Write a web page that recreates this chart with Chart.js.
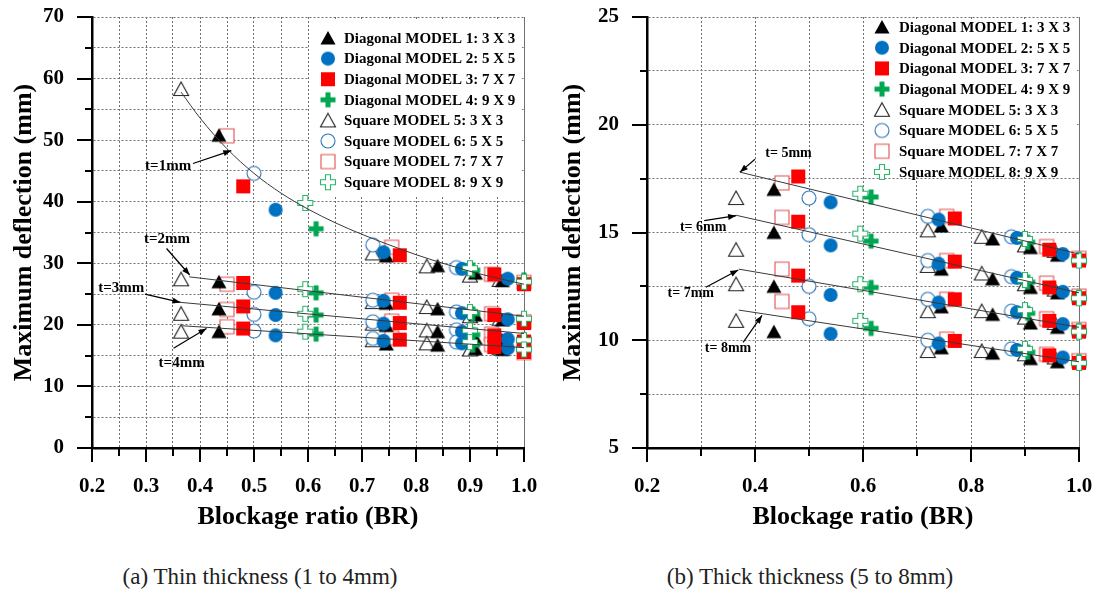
<!DOCTYPE html>
<html>
<head>
<meta charset="utf-8">
<title>Maximum deflection vs blockage ratio</title>
<script src="https://cdn.jsdelivr.net/npm/chart.js@4.4.1/dist/chart.umd.min.js"></script>
<style>
  html, body { margin: 0; padding: 0; background: #fff; }
  #wrap { position: relative; width: 1093px; height: 590px; overflow: hidden; }
  canvas { position: absolute; top: 0; }
  #thin { left: 0; }
  #thick { left: 546px; }
  .caption {
    position: absolute; top: 565px; line-height: 1;
    font-family: "Liberation Serif", "Times New Roman", serif;
    font-size: 23px; color: #222; white-space: nowrap;
    transform: translateX(-50%);
  }
</style>
</head>
<body>
<div id="wrap">
  <canvas id="thin" width="546" height="545"></canvas>
  <canvas id="thick" width="547" height="545"></canvas>
  <div class="caption" style="left:260px">(a) Thin thickness (1 to 4mm)</div>
  <div class="caption" style="left:810px">(b) Thick thickness (5 to 8mm)</div>
</div>
<script>
// blockage ratio (BR) of each model's configurations
const brM1 = [0.435, 0.745, 0.84, 0.91, 0.96];
const brM2 = [0.54, 0.74, 0.885, 0.97];
const brM3 = [0.48, 0.77, 0.945, 1.0];
const brM4 = [0.615, 0.905, 1.0];
const brM5 = [0.365, 0.72, 0.82, 0.9, 0.955];
const brM6 = [0.5, 0.72, 0.875];
const brM7 = [0.45, 0.755, 0.94, 1.0];
const brM8 = [0.595, 0.9, 1.0];

// maximum deflection (mm), one row per plate thickness t = 1..4 mm
const thinM1 = [[50.8, 31.2, 29.6, 28.4, 27.2], [27.0, 23.5, 22.6, 21.6, 20.8], [22.6, 19.9, 18.9, 17.8, 17.5], [18.9, 16.9, 16.7, 16.1, 16.0]];
const thinM2 = [[38.7, 31.8, 29.1, 27.5], [25.2, 23.9, 21.9, 20.9], [21.6, 20.2, 18.9, 17.7], [18.3, 17.4, 17.0, 16.2]];
const thinM3 = [[42.5, 31.3, 28.2, 26.6], [26.8, 23.6, 21.6, 20.3], [23.0, 20.3, 18.3, 17.3], [19.4, 17.6, 16.4, 15.6]];
const thinM4 = [[35.6, 28.9, 27.3], [25.2, 21.8, 20.8], [21.6, 18.4, 17.6], [18.5, 16.7, 16.1]];
const thinM5 = [[58.3, 31.6, 29.5, 28.0, 27.3], [27.4, 23.7, 22.9, 21.4, 21.0], [21.8, 20.2, 19.1, 17.8, 17.8], [18.9, 17.5, 17.0, 16.0, 16.2]];
const thinM6 = [[44.6, 33.0, 29.3], [25.3, 24.0, 22.1], [21.7, 20.5, 19.2], [19.0, 17.8, 17.2]];
const thinM7 = [[50.7, 32.6, 28.2, 26.9], [26.6, 24.0, 21.8, 20.5], [22.5, 20.6, 18.5, 17.0], [19.7, 17.9, 16.8, 15.5]];
const thinM8 = [[39.8, 29.2, 27.0], [25.8, 22.1, 21.0], [21.8, 19.1, 17.5], [18.9, 17.2, 16.0]];

// maximum deflection (mm), one row per plate thickness t = 5..8 mm
const thickM1 = [[17.0, 15.3, 14.7, 14.3, 13.95], [15.0, 13.3, 12.85, 12.45, 12.2], [12.5, 11.55, 11.2, 10.8, 10.6], [10.4, 9.65, 9.4, 9.15, 9.0]];
const thickM2 = [[16.4, 15.6, 14.75, 14.0], [14.4, 13.55, 12.9, 12.25], [12.1, 11.75, 11.3, 10.75], [10.3, 9.85, 9.55, 9.2]];
const thickM3 = [[17.6, 15.65, 14.2, 13.7], [15.5, 13.65, 12.45, 11.95], [13.0, 11.9, 10.9, 10.4], [11.3, 9.97, 9.3, 8.95]];
const thickM4 = [[16.65, 14.55, 13.75], [14.6, 12.7, 12.0], [12.45, 11.25, 10.45], [10.55, 9.45, 9.0]];
const thickM5 = [[16.6, 15.1, 14.8, 14.4, 14.15], [14.2, 13.45, 13.1, 12.6, 12.35], [12.6, 11.35, 11.35, 11.05, 10.8], [10.9, 9.5, 9.5, 9.35, 9.2]];
const thickM6 = [[16.6, 15.75, 14.8], [14.9, 13.7, 12.95], [12.5, 11.9, 11.35], [11.0, 10.0, 9.6]];
const thickM7 = [[17.3, 15.75, 14.35, 13.8], [15.7, 13.7, 12.65, 12.05], [13.3, 11.9, 11.0, 10.5], [11.8, 10.05, 9.35, 9.05]];
const thickM8 = [[16.8, 14.7, 13.7], [14.95, 12.8, 11.95], [12.6, 11.4, 10.4], [10.9, 9.6, 8.95]];

// trend lines for each thickness
const fitBrT1 = [0.365, 0.4, 0.45, 0.5, 0.55, 0.6, 0.65, 0.7, 0.75, 0.8, 0.85, 0.9, 0.95, 1.0];
const fitT1 = [57.8, 53.6, 48.6, 44.6, 41.4, 38.8, 36.6, 34.7, 33.0, 31.4, 30.0, 28.7, 27.6, 26.6];
const fitBrT2 = [0.38, 1.0];
const fitT2 = [27.8, 21.4];
const fitBrT3 = [0.364, 1.0];
const fitT3 = [23.65, 18.6];
const fitBrT4 = [0.367, 1.0];
const fitT4 = [19.85, 16.3];
const fitBrT5 = [0.372, 1.0];
const fitT5 = [17.8, 14.0];
const fitBrT6 = [0.365, 1.0];
const fitT6 = [15.8, 12.2];
const fitBrT7 = [0.37, 1.0];
const fitT7 = [13.3, 10.6];
const fitBrT8 = [0.37, 1.0];
const fitT8 = [11.4, 9.0];

const modelNames = [
  'Diagonal MODEL 1: 3 X 3', 'Diagonal MODEL 2: 5 X 5', 'Diagonal MODEL 3: 7 X 7', 'Diagonal MODEL 4: 9 X 9',
  'Square MODEL 5: 3 X 3', 'Square MODEL 6: 5 X 5', 'Square MODEL 7: 7 X 7', 'Square MODEL 8: 9 X 9'
];
const thinNotes = ['t=1mm', 't=2mm', 't=3mm', 't=4mm'];
const thickNotes = ['t= 5mm', 't= 6mm', 't= 7mm', 't= 8mm'];

const FONT = '"Liberation Serif", "Times New Roman", serif';
const BLUE = '#0070C0', RED = '#FF0000', GREEN = '#00A650';

// small canvases used as point styles (and legend symbols)
function marker(kind, fill, stroke) {
  const c = document.createElement('canvas');
  c.width = 18; c.height = 18;
  const g = c.getContext('2d');
  g.beginPath();
  if (kind === 'tri') {
    g.moveTo(9, 2); g.lineTo(16.5, 15.5); g.lineTo(1.5, 15.5); g.closePath();
  } else if (kind === 'circle') {
    g.arc(9, 9, 7, 0, Math.PI * 2);
  } else if (kind === 'square') {
    g.rect(2, 2, 14, 14);
  } else {
    const a = 6.5, b = 11.5, lo = 1.5, hi = 16.5;
    g.moveTo(a, lo); g.lineTo(b, lo); g.lineTo(b, a); g.lineTo(hi, a); g.lineTo(hi, b); g.lineTo(b, b);
    g.lineTo(b, hi); g.lineTo(a, hi); g.lineTo(a, b); g.lineTo(lo, b); g.lineTo(lo, a); g.lineTo(a, a);
    g.closePath();
  }
  g.fillStyle = fill;
  g.fill();
  if (stroke) {
    g.lineWidth = 1.1;
    g.strokeStyle = stroke;
    g.stroke();
  }
  return c;
}

// order: higher numbers are painted first (underneath)
const models = [
  { name: modelNames[0], br: brM1, thin: thinM1, thick: thickM1, img: marker('tri', '#000'), order: 5 },
  { name: modelNames[1], br: brM2, thin: thinM2, thick: thickM2, img: marker('circle', BLUE), order: 3 },
  { name: modelNames[2], br: brM3, thin: thinM3, thick: thickM3, img: marker('square', RED), order: 2 },
  { name: modelNames[3], br: brM4, thin: thinM4, thick: thickM4, img: marker('plus', GREEN), order: 4 },
  { name: modelNames[4], br: brM5, thin: thinM5, thick: thickM5, img: marker('tri', '#fff', '#222'), order: 8 },
  { name: modelNames[5], br: brM6, thin: thinM6, thick: thickM6, img: marker('circle', '#fff', '#2E75B6'), order: 7 },
  { name: modelNames[6], br: brM7, thin: thinM7, thick: thickM7, img: marker('square', '#fff', '#E05050'), order: 6 },
  { name: modelNames[7], br: brM8, thin: thinM8, thick: thickM8, img: marker('plus', '#fff', '#2DB36A'), order: 1 }
];

const panels = [
  {
    id: 'thin', key: 'thin', width: 546, height: 545, left: 92, right: 524, yTitlePad: 9,
    x: { step: 0.05, major: 0.1 },
    y: { min: 0, max: 70, step: 5, major: 10 },
    fits: [[fitBrT1, fitT1], [fitBrT2, fitT2], [fitBrT3, fitT3], [fitBrT4, fitT4]],
    notes: thinNotes, noteSize: 15,
    // label centre, arrow tail, arrow head (in BR / mm)
    notePos: [
      [[0.341, 45.8], [0.387, 46.2], [0.458, 48.3]],
      [[0.339, 34.0], [0.338, 32.4], [0.381, 28.1]],
      [[0.254, 25.9], [0.298, 25.0], [0.364, 23.65]],
      [[0.366, 13.75], [0.351, 16.2], [0.412, 19.4]]
    ],
    legend: { left: 309, top: 20, bottom: 195, marker: 328, text: 344, row0: 38, gap: 20.6 }
  },
  {
    id: 'thick', key: 'thick', width: 547, height: 545, left: 101, right: 533, yTitlePad: 12,
    x: { step: 0.1, major: 0.2 },
    y: { min: 5, max: 25, step: 2.5, major: 5 },
    fits: [[fitBrT5, fitT5], [fitBrT6, fitT6], [fitBrT7, fitT7], [fitBrT8, fitT8]],
    notes: thickNotes, noteSize: 14,
    notePos: [
      [[0.462, 18.67], [0.4, 18.4], [0.372, 17.8]],
      [[0.304, 15.22], [0.306, 15.55], [0.365, 15.78]],
      [[0.281, 12.18], [0.309, 12.46], [0.369, 13.26]],
      [[0.35, 9.63], [0.378, 9.9], [0.413, 11.15]]
    ],
    legend: { left: 318, top: 20, bottom: 177, marker: 336, text: 353, row0: 27, gap: 20.7 }
  }
];

const isMajor = (v, m) => Math.abs(v / m - Math.round(v / m)) < 1e-6;
const CLEAR = 'rgba(0,0,0,0)';

function arrow(ctx, x0, y0, x1, y1) {
  ctx.beginPath();
  ctx.moveTo(x0, y0);
  ctx.lineTo(x1, y1);
  ctx.stroke();
  const a = Math.atan2(y1 - y0, x1 - x0);
  const len = 8, half = 3;
  ctx.beginPath();
  ctx.moveTo(x1, y1);
  ctx.lineTo(x1 - len * Math.cos(a) + half * Math.sin(a), y1 - len * Math.sin(a) - half * Math.cos(a));
  ctx.lineTo(x1 - len * Math.cos(a) - half * Math.sin(a), y1 - len * Math.sin(a) + half * Math.cos(a));
  ctx.closePath();
  ctx.fill();
}

function buildPanel(p) {
  const datasets = models.map(m => ({
    label: m.name,
    data: m[p.key].flatMap(vals => m.br.map((x, j) => ({ x, y: vals[j] }))),
    pointStyle: m.img,
    pointRadius: 8,
    order: m.order,
    clip: false
  }));
  p.fits.forEach(([br, vals]) => datasets.push({
    label: 'trend',
    data: br.map((x, j) => ({ x, y: vals[j] })),
    showLine: true,
    borderColor: '#3a3a3a',
    borderWidth: 1,
    pointRadius: 0,
    cubicInterpolationMode: 'monotone',
    order: 0,
    clip: false
  }));

  // outward tick marks: long on labelled values, short in between
  const tickMarks = {
    id: 'tickMarks',
    afterDraw(chart) {
      const { ctx, chartArea: a, scales: { x, y } } = chart;
      ctx.save();
      ctx.strokeStyle = '#000';
      ctx.lineWidth = 2;
      ctx.beginPath();
      x.ticks.forEach(t => {
        const px = Math.round(x.getPixelForValue(t.value));
        ctx.moveTo(px, a.bottom);
        ctx.lineTo(px, a.bottom + (isMajor(t.value, p.x.major) ? 14 : 8));
      });
      y.ticks.forEach(t => {
        const py = Math.round(y.getPixelForValue(t.value));
        ctx.moveTo(a.left, py);
        ctx.lineTo(a.left - (isMajor(t.value, p.y.major) ? 15 : 7), py);
      });
      ctx.stroke();
      ctx.restore();
    }
  };

  const legendBox = {
    id: 'legendBox',
    beforeDatasetsDraw(chart) {
      const { ctx, chartArea: a } = chart;
      const L = p.legend;
      ctx.save();
      ctx.fillStyle = '#fff';
      ctx.fillRect(L.left, L.top, a.right - 2 - L.left, L.bottom - L.top);
      ctx.font = `bold 15px ${FONT}`;
      ctx.fillStyle = '#000';
      ctx.textBaseline = 'middle';
      models.forEach((m, i) => {
        const ry = L.row0 + i * L.gap;
        ctx.drawImage(m.img, L.marker - 9, ry - 9);
        ctx.fillText(m.name, L.text, ry + 1);
      });
      ctx.restore();
    }
  };

  const notes = {
    id: 'notes',
    afterDatasetsDraw(chart) {
      const { ctx, scales: { x, y } } = chart;
      ctx.save();
      ctx.fillStyle = '#000';
      ctx.strokeStyle = '#000';
      ctx.lineWidth = 1.2;
      ctx.font = `bold ${p.noteSize}px ${FONT}`;
      ctx.textAlign = 'center';
      ctx.textBaseline = 'middle';
      p.notes.forEach((txt, i) => {
        const [t, from, to] = p.notePos[i];
        ctx.fillText(txt, x.getPixelForValue(t[0]), y.getPixelForValue(t[1]));
        arrow(ctx, x.getPixelForValue(from[0]), y.getPixelForValue(from[1]),
          x.getPixelForValue(to[0]), y.getPixelForValue(to[1]));
      });
      ctx.restore();
    }
  };

  const tickFont = { family: FONT, size: 21, weight: 'bold' };
  const titleFont = { family: FONT, size: 26, weight: 'bold' };

  return new Chart(document.getElementById(p.id), {
    type: 'scatter',
    data: { datasets },
    plugins: [tickMarks, legendBox, notes],
    options: {
      responsive: false,
      animation: false,
      layout: { padding: { left: 0, top: 17, right: p.width - p.right, bottom: 0 } },
      plugins: { legend: { display: false }, tooltip: { enabled: false } },
      scales: {
        x: {
          type: 'linear',
          min: 0.2,
          max: 1.0,
          afterFit: s => { s.height = p.height - 448; s.paddingLeft = 0; s.paddingRight = 0; },
          ticks: {
            stepSize: p.x.step,
            autoSkip: false,
            maxRotation: 0,
            minRotation: 0,
            padding: 26,
            color: '#000',
            font: tickFont,
            callback: v => (isMajor(v, p.x.major) ? v.toFixed(1) : '')
          },
          grid: {
            drawTicks: false,
            lineWidth: 1,
            color: c => (c.tick && c.tick.value < 0.2 + 1e-9 ? CLEAR : '#707070')
          },
          border: {
            display: true,
            color: '#000',
            width: 2.5,
            dash: c => (c.tick && c.tick.value > 1 - 1e-9 ? [] : [2, 2])
          },
          title: { display: true, text: 'Blockage ratio (BR)', color: '#000', font: titleFont, padding: { top: 0, bottom: 12 } }
        },
        y: {
          type: 'linear',
          min: p.y.min,
          max: p.y.max,
          afterFit: s => { s.width = p.left; s.paddingTop = 0; s.paddingBottom = 0; },
          ticks: {
            stepSize: p.y.step,
            autoSkip: false,
            padding: 28,
            color: '#000',
            font: tickFont,
            callback: v => (isMajor(v, p.y.major) ? String(v) : '')
          },
          grid: {
            drawTicks: false,
            lineWidth: 1,
            color: c => (c.tick && c.tick.value < p.y.min + 1e-9 ? CLEAR : '#707070')
          },
          border: { display: true, color: '#000', width: 2.5, dash: [2, 2] },
          title: { display: true, text: 'Maximum deflection (mm)', color: '#000', font: titleFont, padding: { top: p.yTitlePad, bottom: 0 } }
        }
      }
    }
  });
}

panels.forEach(buildPanel);
</script>
</body>
</html>
